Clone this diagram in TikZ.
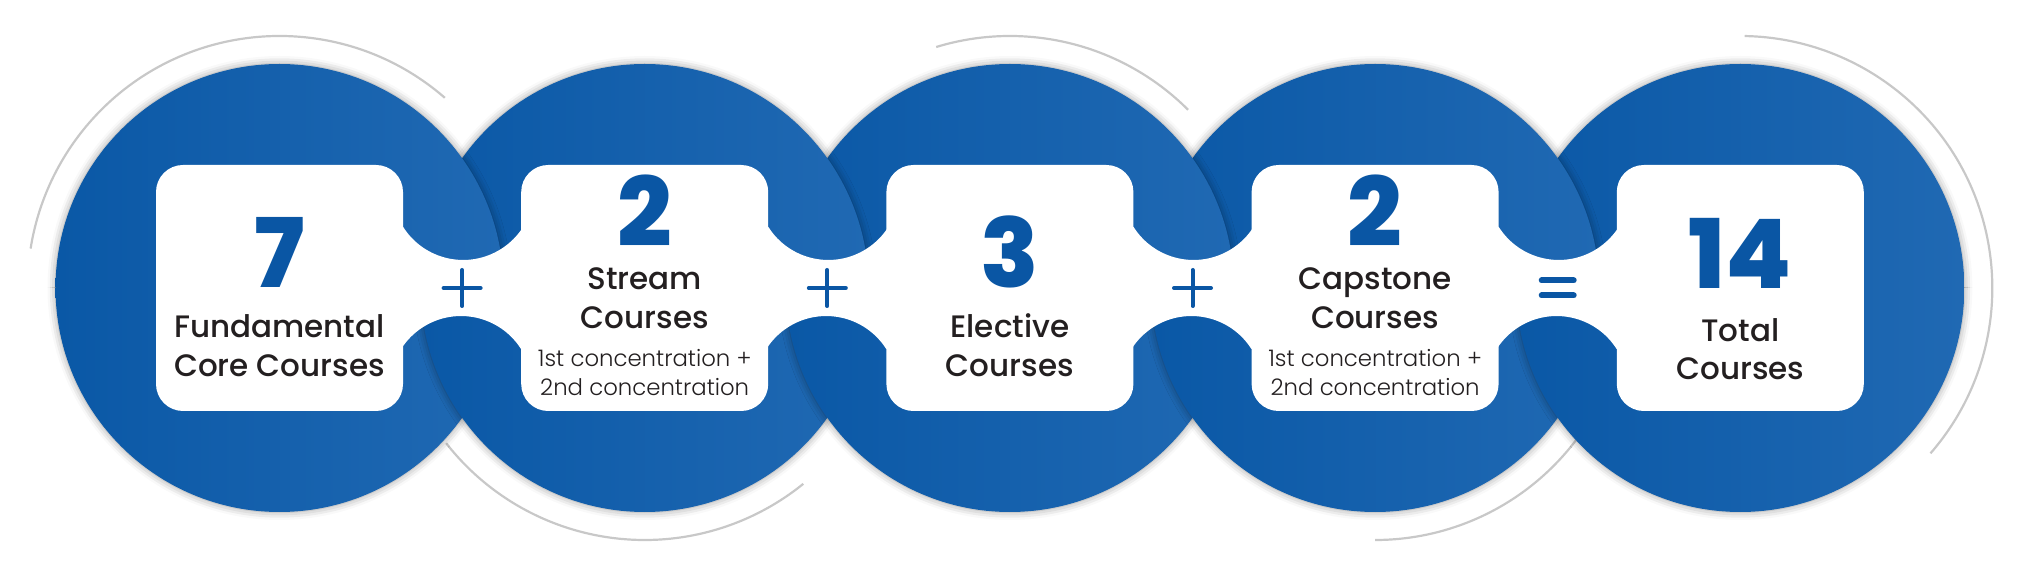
\documentclass[tikz,border=0pt]{standalone}
\usepackage{fontspec}
\setmainfont{Poppins}
\newfontfamily\medfont{Poppins Medium}
\newfontfamily\lightfont{Poppins Light}
\newfontfamily\numfont{Poppins ExtraBold}
\usetikzlibrary{calc,shadows.blur}
\definecolor{ringdark}{HTML}{0A58A6}
\definecolor{ringlight}{HTML}{2069B3}
\definecolor{numblue}{HTML}{0A56A4}
\definecolor{txt}{HTML}{231F20}
\definecolor{arcgray}{HTML}{C8C8C8}

\begin{document}
\begin{tikzpicture}[x=1pt,y=1pt,
  ring/.style={left color=ringdark, right color=ringlight,
    blur shadow={shadow xshift=0pt, shadow yshift=0pt, shadow blur radius=8pt, shadow opacity=40}},
  card/.style={fill=white, rounded corners=27pt, minimum width=247pt, minimum height=246pt, inner sep=0pt},
  num/.style={anchor=base, text=numblue, font=\numfont\fontsize{96}{96}\selectfont, inner sep=0pt},
  title/.style={anchor=base, text=txt, font=\medfont\fontsize{31}{36}\selectfont, inner sep=0pt},
  note/.style={anchor=base, text=txt, font=\lightfont\fontsize{22.8}{27}\selectfont, inner sep=0pt},
  op/.style={draw=numblue, line width=4pt, line cap=round},
  halo/.style={draw=arcgray, line width=2.2pt}]
\def\rad{224}
\def\cy{293}
\useasboundingbox (0,0) rectangle (2042,581);

% ring centres
\foreach \i/\x in {1/279.5,2/644.7,3/1009.9,4/1375.1,5/1740.3}
  \coordinate (c\i) at (\x,\cy);

% thin grey arcs behind the rings
\draw[halo] (c1) ++(49:252) arc[start angle=49, end angle=171, radius=252];
\draw[halo] (c2) ++(218:252) arc[start angle=218, end angle=309, radius=252];
\draw[halo] (c3) ++(45:252) arc[start angle=45, end angle=107, radius=252];
\draw[halo] (c4) ++(270:252) arc[start angle=270, end angle=324, radius=252];
\draw[halo] (c5) ++(-41:252) arc[start angle=-41, end angle=89, radius=252];

% lower halves: right ring lies on top
\begin{scope}
\clip (0,0) rectangle (2042,\cy);
\foreach \i in {1,...,5}
  \shade[ring] (c\i) circle[radius=\rad];
\end{scope}
% upper halves: left ring lies on top
\begin{scope}
\clip (0,\cy) rectangle (2042,581);
\foreach \i in {5,4,...,1}
  \shade[ring] (c\i) circle[radius=\rad];
\end{scope}

% white cards
\foreach \i in {1,...,5}
  \node[card] (b\i) at (c\i) {};

% necks between the cards
\foreach \i/\j in {1/2,2/3,3/4,4/5}
  \fill[white] ([xshift=-4pt,yshift=61pt]b\i.east) -- ([yshift=61pt]b\i.east)
    arc[start angle=212.4, end angle=327.6, radius=71]
    -- ([xshift=4pt,yshift=61pt]b\j.west) -- ([xshift=4pt,yshift=-61pt]b\j.west)
    -- ([yshift=-61pt]b\j.west)
    arc[start angle=32.4, end angle=147.6, radius=71]
    -- ([xshift=-4pt,yshift=-61pt]b\i.east) -- cycle;

% operators
\foreach \i/\j in {1/2,2/3,3/4} {
  \coordinate (p\i) at ($(b\i.east)!.5!(b\j.west)$);
  \draw[op] ([xshift=-18.5pt]p\i) -- ([xshift=18.5pt]p\i)
            ([yshift=-18pt]p\i) -- ([yshift=18pt]p\i);
}
\coordinate (eq) at ($(b4.east)!.5!(b5.west)$);
\draw[op, line width=6pt] ([xshift=-16pt,yshift=7.5pt]eq) -- ([xshift=16pt,yshift=7.5pt]eq)
                          ([xshift=-16pt,yshift=-7.5pt]eq) -- ([xshift=16pt,yshift=-7.5pt]eq);

% card texts
\node[num] (n1) at (c1) {7};
\node[title] (t1a) at ([yshift=-50pt]c1) {Fundamental};
\node[title] (t1b) at ([yshift=-88.7pt]c1) {Core Courses};

\node[num] (n2) at ([yshift=41pt]c2) {2};
\node[title] (t2a) at ([yshift=-2pt]c2) {Stream};
\node[title] (t2b) at ([yshift=-41pt]c2) {Courses};
\node[note] (s2a) at ([yshift=-78.7pt]c2) {1st concentration +};
\node[note] (s2b) at ([yshift=-108pt]c2) {2nd concentration};

\node[num] (n3) at (c3) {3};
\node[title] (t3a) at ([yshift=-50pt]c3) {Elective};
\node[title] (t3b) at ([yshift=-88.7pt]c3) {Courses};

\node[num] (n4) at ([yshift=41pt]c4) {2};
\node[title] (t4a) at ([yshift=-2pt]c4) {Capstone};
\node[title] (t4b) at ([yshift=-41pt]c4) {Courses};
\node[note] (s4a) at ([yshift=-78.7pt]c4) {1st concentration +};
\node[note] (s4b) at ([yshift=-108pt]c4) {2nd concentration};

\node[num] (n5) at ([yshift=-1pt]c5) {14};
\node[title] (t5a) at ([yshift=-53.7pt]c5) {Total};
\node[title] (t5b) at ([yshift=-92pt]c5) {Courses};
\end{tikzpicture}
\end{document}
